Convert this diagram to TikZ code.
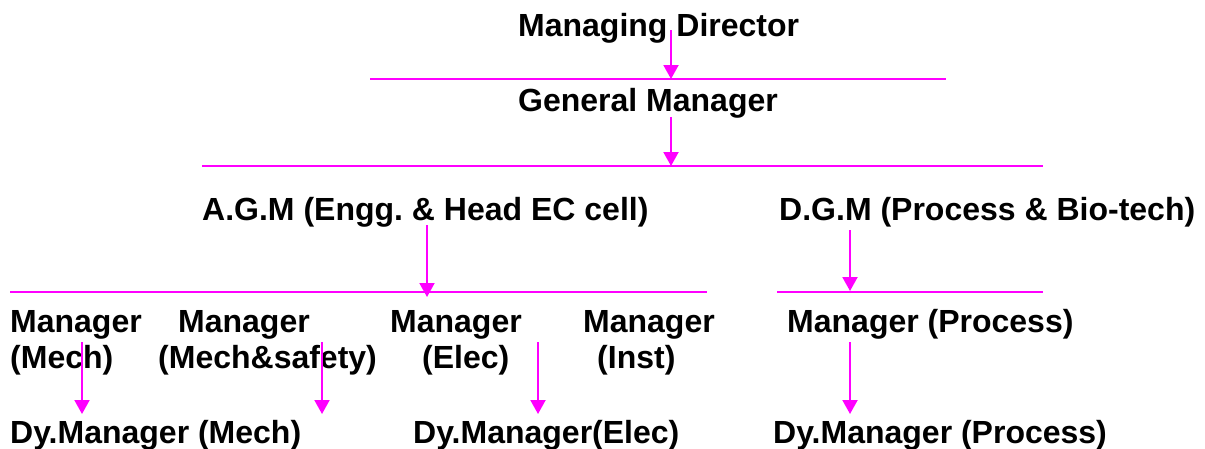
\documentclass[tikz,border=0pt]{standalone}
\usepackage{fontspec}
\setmainfont{Liberation Sans}
\frenchspacing
\usetikzlibrary{arrows.meta}
\definecolor{mag}{RGB}{255,0,255}
\begin{document}
\begin{tikzpicture}[x=1pt,y=-1pt,
  lbl/.style={anchor=base west,inner sep=0pt,font=\fontsize{32}{36}\bfseries\selectfont},
  sep/.style={draw=mag,line width=2pt},
  arr/.style={draw=mag,line width=2pt,-{Triangle[width=15pt,length=14pt]}}]
\useasboundingbox (0,0) rectangle (1205,448);
% texts
\node[lbl] (md) at (518,36) {Managing Director};
\node[lbl] (gm) at (518,111) {General Manager};
\node[lbl] (agm) at (202,220) {A.G.M (Engg. \& Head EC cell)};
\node[lbl] (dgm) at (779,220) {D.G.M (Process \& Bio-tech)};
\node[lbl] (m1) at (10,332) {Manager};
\node[lbl] (m1b) at (10,368) {(Mech)};
\node[lbl] (m2) at (178,332) {Manager};
\node[lbl] (m2b) at (158,368) {(Mech\&safety)};
\node[lbl] (m3) at (390,332) {Manager};
\node[lbl] (m3b) at (422,368) {(Elec)};
\node[lbl] (m4) at (583,332) {Manager};
\node[lbl] (m4b) at (597,368) {(Inst)};
\node[lbl] (mp) at (787,332) {Manager (Process)};
\node[lbl] (d1) at (10,443) {Dy.Manager (Mech)};
\node[lbl] (d2) at (413,443) {Dy.Manager(Elec)};
\node[lbl] (d3) at (773,443) {Dy.Manager (Process)};
% separator lines
\coordinate (s1a) at (370,79);  \coordinate (s1b) at (946,79);
\coordinate (s2a) at (202,166); \coordinate (s2b) at (1043,166);
\coordinate (s3a) at (10,292);  \coordinate (s3b) at (707,292);
\coordinate (s4a) at (777,292); \coordinate (s4b) at (1043,292);
\draw[sep] (s1a) -- (s1b);
\draw[sep] (s2a) -- (s2b);
\draw[sep] (s3a) -- (s3b);
\draw[sep] (s4a) -- (s4b);
% arrows
\coordinate (a1s) at (671,30);  \coordinate (a1e) at (671,79);
\coordinate (a2s) at (671,117); \coordinate (a2e) at (671,166);
\coordinate (a3s) at (427,225); \coordinate (a3e) at (427,297);
\coordinate (a4s) at (850,230); \coordinate (a4e) at (850,291);
\coordinate (a5s) at (82,342);  \coordinate (a5e) at (82,414);
\coordinate (a6s) at (322,342); \coordinate (a6e) at (322,414);
\coordinate (a7s) at (538,342); \coordinate (a7e) at (538,414);
\coordinate (a8s) at (850,342); \coordinate (a8e) at (850,414);
\draw[arr] (a1s) -- (a1e);
\draw[arr] (a2s) -- (a2e);
\draw[arr] (a3s) -- (a3e);
\draw[arr] (a4s) -- (a4e);
\draw[arr] (a5s) -- (a5e);
\draw[arr] (a6s) -- (a6e);
\draw[arr] (a7s) -- (a7e);
\draw[arr] (a8s) -- (a8e);
\end{tikzpicture}
\end{document}
